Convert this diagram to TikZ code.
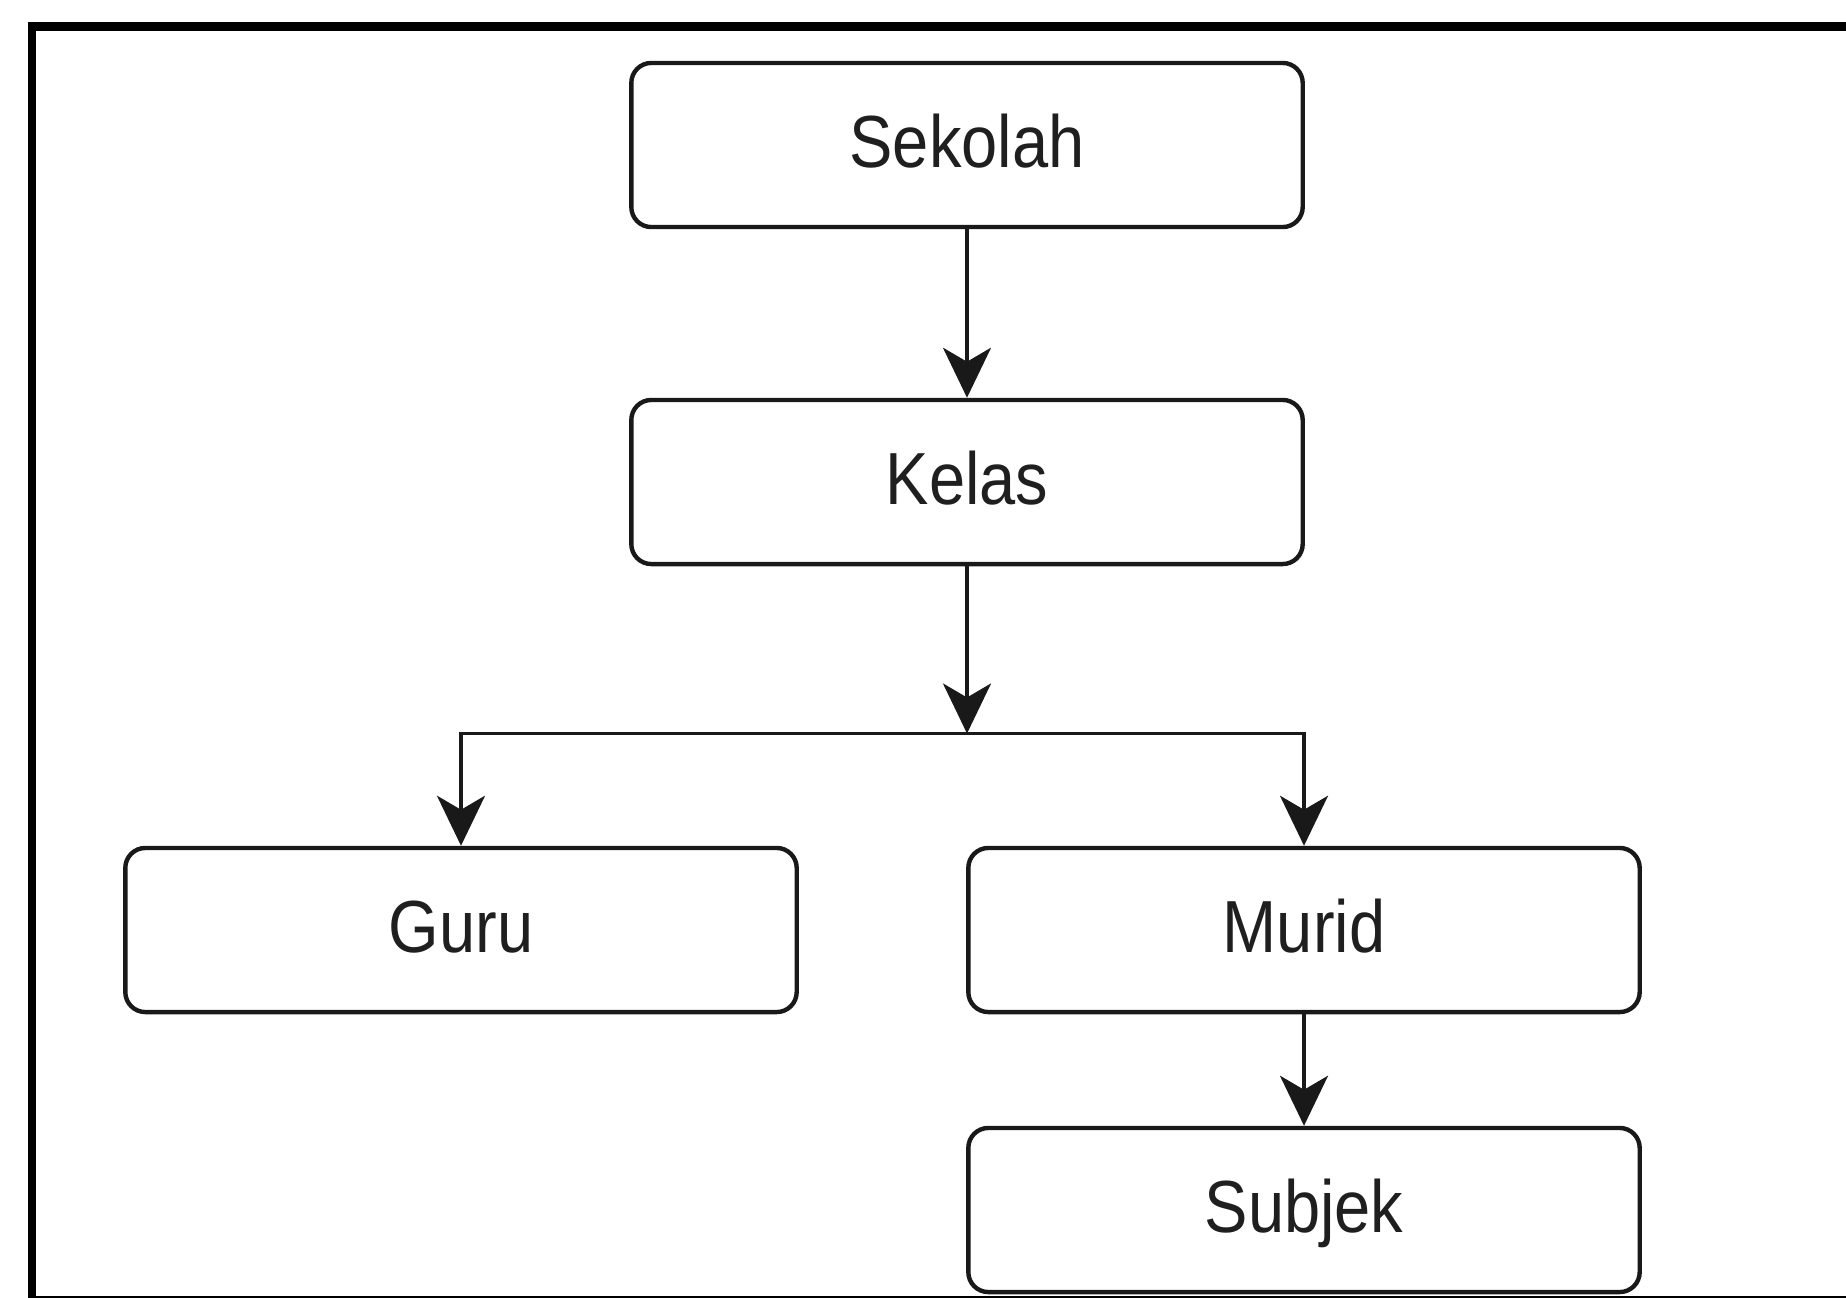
\documentclass[tikz,border=0pt]{standalone}
\usepackage{fontspec}
\newfontfamily\boxfont{Liberation Sans}[FakeStretch=0.88]
\usetikzlibrary{arrows.meta}
\begin{document}
\begin{tikzpicture}[x=0.01cm,y=-0.01cm,
  entity/.style={draw=black!90, line width=1.25pt, rounded corners=0.2cm,
    minimum width=6.71cm, minimum height=1.64cm, inner sep=0pt,
    text height=0.6cm, text depth=0.16cm,
    font=\boxfont\fontsize{21pt}{25pt}\selectfont, text=black!88},
  link/.style={draw=black!90, line width=0.95pt,
    -{Stealth[length=0.5cm,width=0.48cm,inset=0.14cm]}}]
\useasboundingbox (0,0) rectangle (1846,1297);
% outer frame
\draw[line width=2.4pt] (32,26.5) rectangle (1900,1300);

% entities
\node[entity] (sekolah) at (967,145) {Sekolah};
\node[entity] (kelas)   at (967,482) {Kelas};
\node[entity] (guru)    at (461,930) {Guru};
\node[entity] (murid)   at (1304,930) {Murid};
\node[entity] (subjek)  at (1304,1210) {Subjek};

% branch point below Kelas
\coordinate (split) at (967,733.5);

% connectors
\draw[link] (sekolah) -- (kelas);
\draw[link] (kelas) -- (split);
\draw[link] (split) -| (guru.north);
\draw[link] (split) -| (murid.north);
\draw[link] (murid) -- (subjek);
\end{tikzpicture}
\end{document}
